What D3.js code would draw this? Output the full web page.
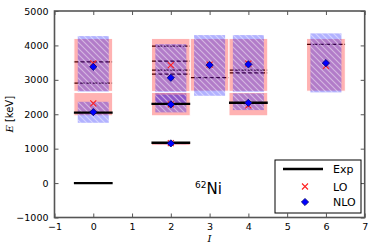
<!DOCTYPE html>
<html><head><meta charset="utf-8">
<script src="https://cdn.jsdelivr.net/npm/d3@7"></script>
<style>body{margin:0;background:#fff}svg{display:block}</style>
</head><body>
<svg id="c" width="374" height="251"></svg>
<script>
// ---- data ----
const xTicks = [-1,0,1,2,3,4,5,6,7];
const yTicks = [-1000,0,1000,2000,3000,4000,5000];
// calculated levels (drawn upper first, then lower)
const levelI   = [0,    0,    2,    2,    2,    3,    4,    4,    6];
const loVal    = [3478, 2315, 1160, 3428, 2290, 3440, 3470, 2260, 3408];
const loLow    = [2665, 1955, 1095, 2655, 1955, 2670, 2665, 1955, 2670];
const loHigh   = [4204, 2630, 1205, 4204, 2635, 4204, 4204, 2635, 4204];
const nloVal   = [3379, 2063, 1153, 3059, 2286, 3428, 3448, 2333, 3486];
const nloLow   = [2660, 1752, 1130, 2315, 2054, 2537, 2650, 2121, 2635];
const nloHigh  = [4271, 2362, 1175, 4038, 2570, 4300, 4300, 2606, 4349];
// experimental levels
const expI     = [0, 0, 2, 2, 4];
const expE     = [0, 2048, 1173, 2302, 2336];
const expDashI = [0, 0, 2, 2, 2, 2, 3, 4, 4, 6];
const expDashE = [2905, 3524, 3167, 3283, 3544, 3980, 3065, 3205, 3283, 4029];
const legendLabels = ["Exp", "LO", "NLO"];

// ---- chart ----
const svg = d3.select("#c");
const L = 54.5, R = 364.7, T = 11, B = 217.5;
const x = d3.scaleLinear().domain([-1,7]).range([L,R]);
const y = d3.scaleLinear().domain([-1000,5000]).range([B,T]);

const defs = svg.append("defs");
const pat = defs.append("pattern").attr("id","hatch").attr("patternUnits","userSpaceOnUse")
  .attr("width",6).attr("height",6);
pat.append("path").attr("d","M0,0L6,6M-1,5L1,7M5,-1L7,1")
  .attr("stroke","rgba(255,255,255,0.45)").attr("stroke-width",1.1);
defs.append("clipPath").attr("id","clip").append("rect")
  .attr("x",L).attr("y",T).attr("width",R-L).attr("height",B-T);

const g = svg.append("g").attr("clip-path","url(#clip)");

// dashed exp levels (beneath bands)
g.selectAll(".dash").data(expDashE).enter().append("line")
  .attr("x1",(d,i)=>x(expDashI[i]-0.5)).attr("x2",(d,i)=>x(expDashI[i]+0.5))
  .attr("y1",d=>y(d)).attr("y2",d=>y(d))
  .attr("stroke","#000").attr("stroke-width",1.2).attr("stroke-dasharray","4.5,1.8");

// bands
levelI.forEach((I,i)=>{
  g.append("rect").attr("x",x(I-0.5)).attr("width",x(I+0.5)-x(I-0.5))
    .attr("y",y(loHigh[i])).attr("height",y(loLow[i])-y(loHigh[i]))
    .attr("fill","rgba(255,0,0,0.3)").attr("stroke","#fff").attr("stroke-width",1);
  const bw = x(I+0.4)-x(I-0.4);
  g.append("rect").attr("x",x(I-0.4)).attr("width",bw)
    .attr("y",y(nloHigh[i])).attr("height",y(nloLow[i])-y(nloHigh[i]))
    .attr("fill","rgba(0,0,255,0.3)");
  g.append("rect").attr("x",x(I-0.4)).attr("width",bw)
    .attr("y",y(nloHigh[i])).attr("height",y(nloLow[i])-y(nloHigh[i]))
    .attr("fill","url(#hatch)");
});

// solid exp levels
g.selectAll(".exp").data(expE).enter().append("line")
  .attr("x1",(d,i)=>x(expI[i]-0.5)).attr("x2",(d,i)=>x(expI[i]+0.5))
  .attr("y1",d=>y(d)).attr("y2",d=>y(d))
  .attr("stroke","#000").attr("stroke-width",2.4);

// LO markers
const xm = (cx,cy,s)=>`M${cx-s},${cy-s}L${cx+s},${cy+s}M${cx-s},${cy+s}L${cx+s},${cy-s}`;
g.selectAll(".lo").data(loVal).enter().append("path")
  .attr("d",(d,i)=>xm(x(levelI[i]),y(d),3))
  .attr("stroke","#ff2020").attr("stroke-width",1.1).attr("fill","none");
// NLO markers
const dm = (cx,cy,s)=>`M${cx},${cy-s}L${cx+s},${cy}L${cx},${cy+s}L${cx-s},${cy}Z`;
g.selectAll(".nlo").data(nloVal).enter().append("path")
  .attr("d",(d,i)=>dm(x(levelI[i]),y(d),3.6))
  .attr("fill","#0000ff").attr("stroke","#00006a").attr("stroke-width",0.8);

// axes frame
const axCol = "#555";
svg.append("rect").attr("x",L).attr("y",T).attr("width",R-L).attr("height",B-T)
  .attr("fill","none").attr("stroke",axCol).attr("stroke-width",1.6);
const xb = d3.axisBottom(x).tickValues(xTicks).tickSize(-4).tickPadding(6)
  .tickFormat(d=>d<0?"\u2212"+Math.abs(d):d);
const yl = d3.axisLeft(y).tickValues(yTicks).tickSize(-4).tickPadding(6)
  .tickFormat(d=>d<0?"\u2212"+Math.abs(d):d);
const gx = svg.append("g").attr("transform",`translate(0,${B})`).call(xb);
const gy = svg.append("g").attr("transform",`translate(${L},0)`).call(yl);
const gt = svg.append("g").attr("transform",`translate(0,${T})`).call(d3.axisTop(x).tickValues(xTicks).tickSize(-4).tickFormat(""));
const gr = svg.append("g").attr("transform",`translate(${R},0)`).call(d3.axisRight(y).tickValues(yTicks).tickSize(-4).tickFormat(""));
[gx,gy,gt,gr].forEach(a=>{
  a.select(".domain").remove();
  a.selectAll(".tick line").attr("stroke",axCol).attr("stroke-width",1);
  a.selectAll("text").attr("font-family","DejaVu Sans").attr("font-size",9.5).attr("fill","#000");
});

// axis labels
const yt = svg.append("text").attr("transform",`translate(13,${(T+B)/2}) rotate(-90)`)
  .attr("text-anchor","middle").attr("font-size",10).attr("font-family","DejaVu Sans");
yt.append("tspan").attr("font-family","DejaVu Serif").attr("font-style","italic").text("E");
yt.append("tspan").text(" [keV]");
svg.append("text").attr("x",(L+R)/2).attr("y",242).attr("text-anchor","middle")
  .attr("font-family","DejaVu Serif").attr("font-style","italic").attr("font-size",10).text("I");

// nucleus label
const nt = svg.append("text").attr("x",195).attr("y",194).attr("font-family","DejaVu Sans");
nt.append("tspan").attr("font-size",9).attr("dy",-6).text("62");
nt.append("tspan").attr("font-size",15).attr("dy",6).text("Ni");

// legend
const lg = svg.append("g");
lg.append("rect").attr("x",275).attr("y",160).attr("width",86).attr("height",53)
  .attr("fill","#fff").attr("stroke","#000").attr("stroke-width",1);
const ly = [169, 186.5, 202];
lg.append("line").attr("x1",283).attr("x2",323).attr("y1",ly[0]).attr("y2",ly[0])
  .attr("stroke","#000").attr("stroke-width",2.4);
lg.append("path").attr("d",xm(305,ly[1],3)).attr("stroke","#ff2020").attr("stroke-width",1.1);
lg.append("path").attr("d",dm(305,ly[2],3.6)).attr("fill","#0000ff").attr("stroke","#00006a").attr("stroke-width",0.8);
lg.selectAll(".lt").data(legendLabels).enter().append("text")
  .attr("x",333).attr("y",(d,i)=>ly[i]+4).attr("font-family","DejaVu Sans").attr("font-size",11).text(d=>d);
</script>
</body></html>
